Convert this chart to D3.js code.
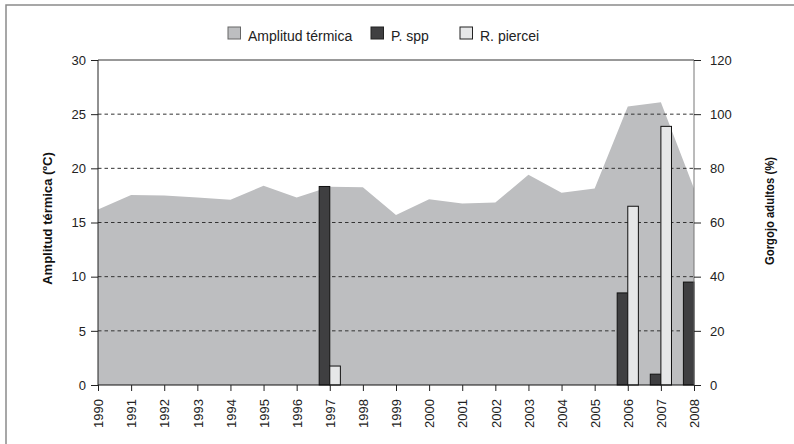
<!DOCTYPE html>
<html>
<head>
<meta charset="utf-8">
<script src="https://cdn.jsdelivr.net/npm/d3@7"></script>
<style>
  body { margin: 0; background: #fff; }
  svg { display: block; font-family: "Liberation Sans", Arial, sans-serif; }
</style>
</head>
<body>
<div id="chart"></div>
<script>
const years = [1990, 1991, 1992, 1993, 1994, 1995, 1996, 1997, 1998, 1999,
  2000, 2001, 2002, 2003, 2004, 2005, 2006, 2007, 2008];
// amplitud térmica (ºC), left axis
const amplitud = [16.2, 17.55, 17.5, 17.3, 17.1, 18.4, 17.3, 18.3, 18.25, 15.7,
  17.15, 16.75, 16.85, 19.4, 17.75, 18.15, 25.7, 26.1, 18.15];
// gorgojo adultos (%), right axis
const pSpp = [0, 0, 0, 0, 0, 0, 0, 73.3, 0, 0, 0, 0, 0, 0, 0, 0, 34, 4, 38];
const rPiercei = [0, 0, 0, 0, 0, 0, 0, 7, 0, 0, 0, 0, 0, 0, 0, 0, 66, 95.5, 0];
const leftTicks = [0, 5, 10, 15, 20, 25, 30];
const rightTicks = [0, 20, 40, 60, 80, 100, 120];
const legendLabels = ["Amplitud térmica", "P. spp", "R. piercei"];

const width = 794;
const height = 444;
const margin = { top: 60, right: 100, bottom: 59, left: 98 };
const x0 = margin.left;
const x1 = width - margin.right;
const y0 = height - margin.bottom;
const y1 = margin.top;

const colors = { area: "#bdbec0", pSpp: "#3f3f41", rPiercei: "#e6e7e8" };

const x = d3.scaleLinear().domain([1990, 2008]).range([x0, x1]);
const yL = d3.scaleLinear().domain([0, 30]).range([y0, y1]);
const yR = d3.scaleLinear().domain([0, 120]).range([y0, y1]);
const step = x(1991) - x(1990);
const barW = step * 0.32;

const svg = d3
  .select("#chart")
  .append("svg")
  .attr("width", width)
  .attr("height", height);

// outer frame
svg
  .append("rect")
  .attr("x", 6)
  .attr("y", 5)
  .attr("width", 820)
  .attr("height", 460)
  .attr("fill", "none")
  .attr("stroke", "#8a8a8a")
  .attr("stroke-width", 1.5);

// area
const area = d3
  .area()
  .x((d, i) => x(years[i]))
  .y0(y0)
  .y1((d) => yL(d));

svg.append("path").datum(amplitud).attr("d", area).attr("fill", colors.area);

// dashed grid
svg
  .append("g")
  .selectAll("line")
  .data(leftTicks.filter((t) => t > 0 && t < 30))
  .join("line")
  .attr("x1", x0)
  .attr("x2", x1)
  .attr("y1", (d) => yL(d))
  .attr("y2", (d) => yL(d))
  .attr("stroke", "#333")
  .attr("stroke-dasharray", "3.5,3")
  .attr("stroke-width", 1);

// bars
const bars = svg.append("g").attr("stroke", "#111").attr("stroke-width", 1);

bars
  .selectAll("rect.p")
  .data(years.map((yr, i) => ({ yr, v: pSpp[i] })).filter((d) => d.v > 0))
  .join("rect")
  .attr("class", "p")
  .attr("x", (d) => x(d.yr) - barW)
  .attr("y", (d) => yR(d.v))
  .attr("width", barW)
  .attr("height", (d) => y0 - yR(d.v))
  .attr("fill", colors.pSpp);

bars
  .selectAll("rect.r")
  .data(years.map((yr, i) => ({ yr, v: rPiercei[i] })).filter((d) => d.v > 0))
  .join("rect")
  .attr("class", "r")
  .attr("x", (d) => x(d.yr))
  .attr("y", (d) => yR(d.v))
  .attr("width", barW)
  .attr("height", (d) => y0 - yR(d.v))
  .attr("fill", colors.rPiercei);

// top border of plot
svg
  .append("line")
  .attr("x1", x0)
  .attr("x2", x1)
  .attr("y1", y1)
  .attr("y2", y1)
  .attr("stroke", "#333");

// axes
const axisLeft = svg
  .append("g")
  .attr("transform", `translate(${x0},0)`)
  .call(d3.axisLeft(yL).tickValues(leftTicks).tickSize(7).tickPadding(5));

const axisRight = svg
  .append("g")
  .attr("transform", `translate(${x1},0)`)
  .call(d3.axisRight(yR).tickValues(rightTicks).tickSize(7).tickPadding(9));

const axisBottom = svg
  .append("g")
  .attr("transform", `translate(0,${y0})`)
  .call(d3.axisBottom(x).tickValues(years).tickFormat(d3.format("d")).tickSize(6));

axisBottom
  .selectAll("text")
  .attr("transform", "rotate(-90)")
  .attr("text-anchor", "end")
  .attr("x", -14)
  .attr("y", 0)
  .attr("dy", "0.36em");

[axisLeft, axisRight, axisBottom].forEach((g) => {
  g.selectAll("text").attr("font-size", 13).attr("fill", "#222").attr("font-family", null);
  g.selectAll(".tick line").attr("stroke", "#222");
});
axisLeft.select(".domain").attr("stroke", "#222");
axisBottom.select(".domain").attr("stroke", "#111").attr("d", `M${x0},0H${x1}`);
axisRight.select(".domain").attr("stroke", "#777").attr("d", `M0,${y1}V${y0}`);
axisLeft.select(".domain").attr("d", `M0,${y1}V${y0}`);

// axis titles
svg
  .append("text")
  .attr("transform", `translate(52,${(y0 + y1) / 2 - 4}) rotate(-90)`)
  .attr("text-anchor", "middle")
  .attr("font-size", 13)
  .attr("font-weight", "bold")
  .attr("fill", "#111")
  .text("Amplitud térmica (ºC)");

svg
  .append("text")
  .attr("transform", `translate(774,211) rotate(-90)`)
  .attr("text-anchor", "middle")
  .attr("font-size", 13)
  .attr("font-weight", "bold")
  .attr("fill", "#111")
  .attr("textLength", 108)
  .attr("lengthAdjust", "spacingAndGlyphs")
  .text("Gorgojo adultos (%)");

// legend
const legendX = [228, 371, 460];
const legendFill = [colors.area, colors.pSpp, colors.rPiercei];
const legend = svg
  .append("g")
  .selectAll("g")
  .data(legendLabels)
  .join("g")
  .attr("transform", (d, i) => `translate(${legendX[i]},27)`);

legend
  .append("rect")
  .attr("width", 12.5)
  .attr("height", 12)
  .attr("fill", (d, i) => legendFill[i])
  .attr("stroke", (d, i) => (i === 0 ? "#666" : "#222"))
  .attr("stroke-width", 1);

legend
  .append("text")
  .attr("x", 20)
  .attr("y", 14)
  .attr("font-size", 14)
  .attr("fill", "#222")
  .text((d) => d);
</script>
</body>
</html>
